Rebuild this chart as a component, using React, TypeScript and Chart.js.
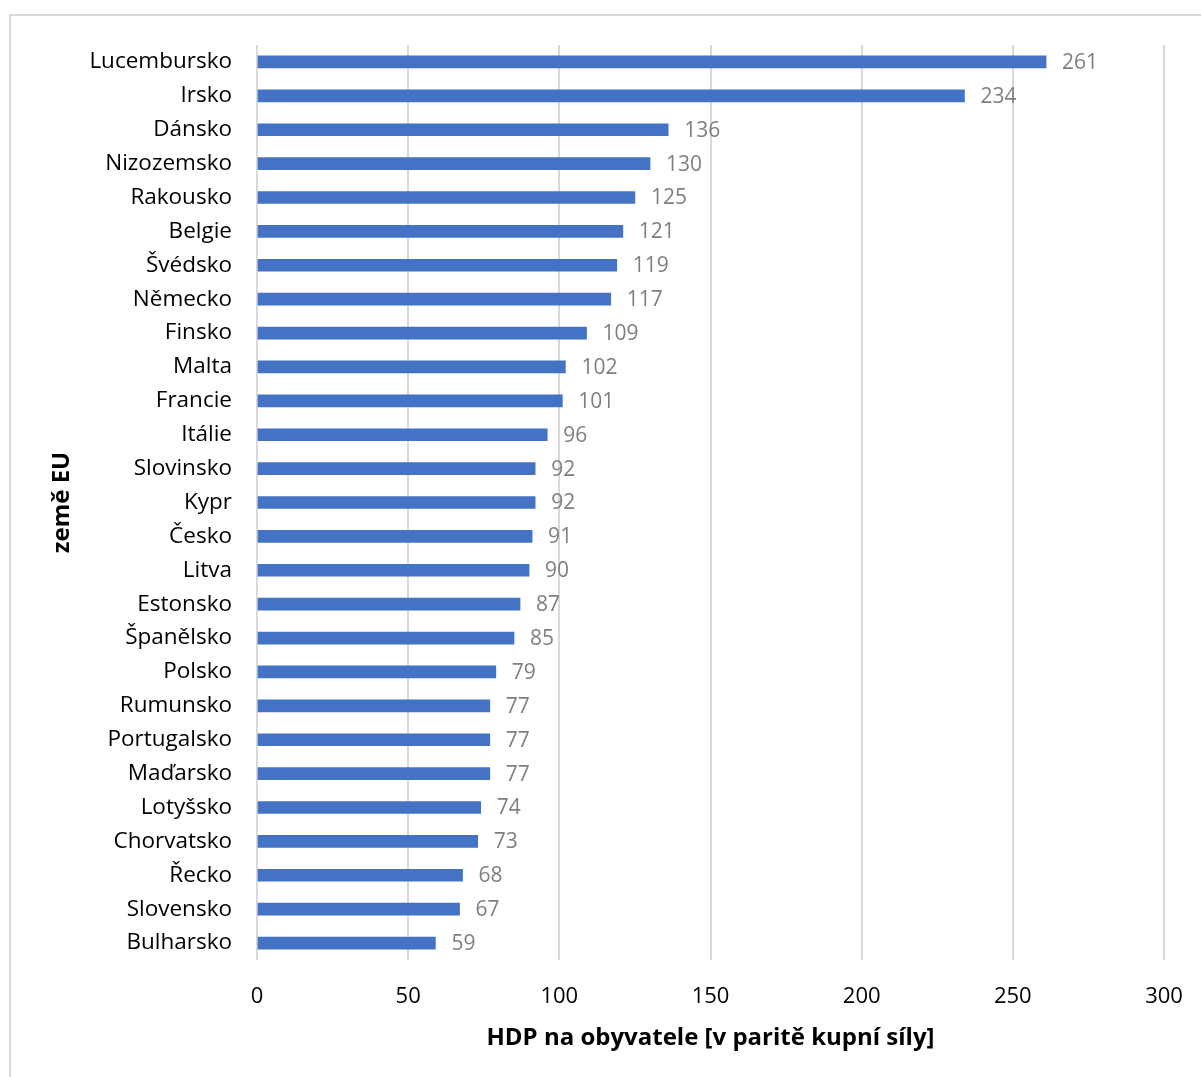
import React, { useEffect, useRef } from "react";
import { Chart, registerables } from "chart.js";

Chart.register(...registerables);

const countries = [
  "Lucembursko", "Irsko", "Dánsko", "Nizozemsko", "Rakousko", "Belgie", "Švédsko",
  "Německo", "Finsko", "Malta", "Francie", "Itálie", "Slovinsko", "Kypr", "Česko",
  "Litva", "Estonsko", "Španělsko", "Polsko", "Rumunsko", "Portugalsko", "Maďarsko",
  "Lotyšsko", "Chorvatsko", "Řecko", "Slovensko", "Bulharsko",
];
const gdpValues = [
  261, 234, 136, 130, 125, 121, 119, 117, 109, 102, 101, 96, 92, 92, 91,
  90, 87, 85, 79, 77, 77, 77, 74, 73, 68, 67, 59,
];
const xTicks = [0, 50, 100, 150, 200, 250, 300];
const xTitle = "HDP na obyvatele [v paritě kupní síly]";
const yTitle = "země EU";

const FONT = "'Open Sans', 'Noto Sans', sans-serif";

const valueLabels = {
  id: "valueLabels",
  afterDatasetsDraw(chart: any) {
    const ctx = chart.ctx;
    const meta = chart.getDatasetMeta(0);
    ctx.save();
    ctx.font = `21px ${FONT}`;
    ctx.fillStyle = "#7f7f7f";
    ctx.textAlign = "left";
    ctx.textBaseline = "middle";
    meta.data.forEach((el: any, i: number) => {
      ctx.fillText(String(gdpValues[i]), el.x + 16, el.y + 1);
    });
    ctx.restore();
  },
};

export default function App() {
  const ref = useRef<HTMLCanvasElement>(null);
  useEffect(() => {
    if (!ref.current) return;
    const chart = new Chart(ref.current, {
      type: "bar",
      data: {
        labels: countries,
        datasets: [
          {
            data: gdpValues,
            backgroundColor: "#4472C4",
            barThickness: 12,
          },
        ],
      },
      options: {
        indexAxis: "y",
        animation: false,
        responsive: false,
        layout: { padding: { top: 45, right: 37, left: 0, bottom: 0 } },
        plugins: {
          legend: { display: false },
          tooltip: { enabled: false },
        },
        scales: {
          x: {
            min: 0,
            max: 300,
            afterBuildTicks: (axis: any) => {
              axis.ticks = xTicks.map((v) => ({ value: v }));
            },
            afterFit: (axis: any) => {
              axis.height = 117;
              axis.paddingRight = 0;
              axis.paddingLeft = 0;
            },
            grid: { color: "#d9d9d9", lineWidth: 2, drawTicks: false },
            border: { display: false },
            ticks: {
              color: "#000",
              font: { family: FONT, size: 22 },
              padding: 24,
              maxRotation: 0,
            },
            title: {
              display: true,
              text: xTitle,
              color: "#000",
              font: { family: FONT, size: 24, weight: "bold" },
              padding: { top: 0, bottom: 24 },
            },
          },
          y: {
            afterFit: (axis: any) => {
              axis.width = 257;
            },
            grid: { display: false },
            border: { display: false },
            ticks: {
              color: "#000",
              font: { family: FONT, size: 22.5 },
              padding: 17,
              autoSkip: false,
            },
            title: {
              display: true,
              text: yTitle,
              color: "#000",
              font: { family: FONT, size: 24, weight: "bold" },
              padding: { top: 48, bottom: 0 },
            },
          },
        },
      },
      plugins: [valueLabels],
    });
    return () => chart.destroy();
  }, []);

  return (
    <div style={{ position: "fixed", left: 0, top: 0, width: 1201, height: 1077, overflow: "hidden", background: "#fff" }}>
      <div
        style={{
          position: "absolute",
          left: 9,
          top: 14,
          width: 1400,
          height: 1300,
          border: "2px solid #d9d9d9",
        }}
      />
      <canvas
        ref={ref}
        width={1201}
        height={1077}
        style={{ position: "absolute", left: 0, top: 0, width: 1201, height: 1077 }}
      />
    </div>
  );
}
